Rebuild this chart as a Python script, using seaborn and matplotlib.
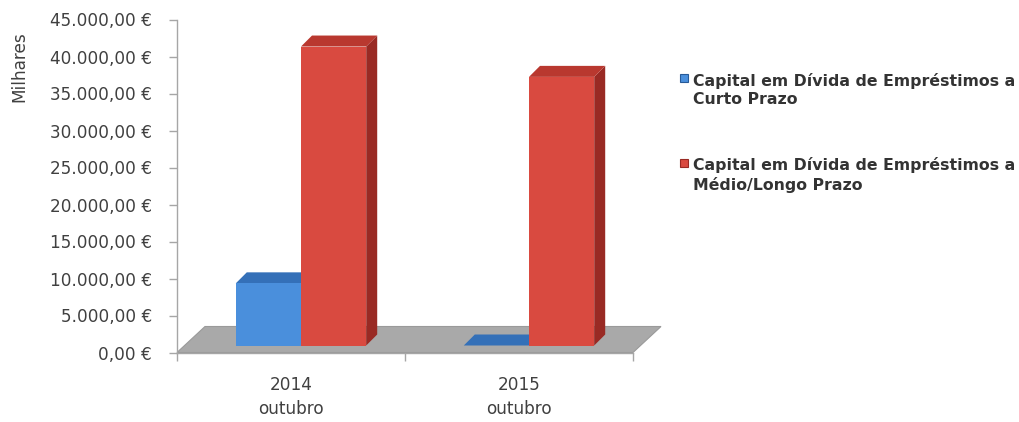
import numpy as np
import pandas as pd
import matplotlib
matplotlib.use("Agg")
import matplotlib.pyplot as plt
import matplotlib.colors as mcolors
import seaborn as sns
from matplotlib.patches import Polygon, Rectangle
from matplotlib.transforms import ScaledTranslation
from matplotlib.ticker import FuncFormatter, FixedLocator

# ---- data ----
categories = ["2014\noutubro", "2015\noutubro"]
series = ["Capital em Dívida de Empréstimos a\nCurto Prazo",
          "Capital em Dívida de Empréstimos a\nMédio/Longo Prazo"]
curto_prazo = [8400, 0]
medio_longo_prazo = [40400, 36300]
y_ticks = [0, 5000, 10000, 15000, 20000, 25000, 30000, 35000, 40000, 45000]
y_label = "Milhares"

# ---- styles ----
front_colors = ["#4a8fdc", "#d94a40"]
top_colors = ["#3470b8", "#b9382f"]
side_colors = ["#275a98", "#992a24"]
floor_color = "#a9a9a9"
axis_color = "#a6a6a6"
text_color = "#404040"

sns.set_theme(style="white")
plt.rcParams["font.family"] = ["DejaVu Sans"]

W, H, DPI = 1019, 422, 100
fig = plt.figure(figsize=(W / DPI, H / DPI), dpi=DPI)
ax_l, ax_b, ax_w, ax_h = 177 / W, 1 - 352.5 / H, (633 - 177) / W, (352.5 - 19.5) / H
ax = fig.add_axes([ax_l, ax_b, ax_w, ax_h])

df = pd.DataFrame({
    "ano": categories * 2,
    "serie": [series[0]] * len(categories) + [series[1]] * len(categories),
    "valor": curto_prazo + medio_longo_prazo,
})
sns.barplot(data=df, x="ano", y="valor", hue="serie", order=categories,
            hue_order=series, palette=front_colors, width=0.572,
            errorbar=None, saturation=1, legend=False, ax=ax)
bars = sorted([p for p in ax.patches if isinstance(p, Rectangle)], key=lambda p: p.get_x())

ax.set_xlim(-0.5, len(categories) - 0.5)
ax.set_ylim(y_ticks[0], y_ticks[-1])

px_x = ax_w * W / (ax.get_xlim()[1] - ax.get_xlim()[0])
px_y = ax_h * H / (ax.get_ylim()[1] - ax.get_ylim()[0])

# floor (3D base)
fdx, fdy = 28 / px_x, 26 / px_y
x0f, x1f = ax.get_xlim()
floor = Polygon([(x0f, 0), (x1f, 0), (x1f + fdx, fdy), (x0f + fdx, fdy)],
                closed=True, facecolor=floor_color, edgecolor="#9a9a9a",
                lw=0.8, clip_on=False, zorder=1)
ax.add_patch(floor)

# bars with 3D faces
offset = ax.transData + ScaledTranslation(10 / DPI, 7 / DPI, fig.dpi_scale_trans)
ddx, ddy = 11 / px_x, 11 / px_y
front_hex = [mcolors.to_hex(c) for c in front_colors]
for i, p in enumerate(bars):
    k = front_hex.index(mcolors.to_hex(p.get_facecolor()))
    x0, w, h = p.get_x(), p.get_width(), p.get_height()
    p.set_transform(offset)
    p.set_clip_on(False)
    p.set_zorder(3 + 2 * i + 1)
    p.set_edgecolor("none")
    side = Polygon([(x0 + w, 0), (x0 + w + ddx, ddy), (x0 + w + ddx, h + ddy), (x0 + w, h)],
                   closed=True, facecolor=side_colors[k], edgecolor="none",
                   transform=offset, clip_on=False, zorder=3 + 2 * i)
    top = Polygon([(x0, h), (x0 + ddx, h + ddy), (x0 + w + ddx, h + ddy), (x0 + w, h)],
                  closed=True, facecolor=top_colors[k], edgecolor="none",
                  transform=offset, clip_on=False, zorder=3 + 2 * i)
    ax.add_patch(side)
    ax.add_patch(top)

# axes styling
for s in ["top", "right"]:
    ax.spines[s].set_visible(False)
for s in ["left", "bottom"]:
    ax.spines[s].set_color(axis_color)
    ax.spines[s].set_linewidth(1.0)
    ax.spines[s].set_zorder(2)

def euro(v, pos=None):
    s = f"{v:,.2f}".replace(",", "X").replace(".", ",").replace("X", ".")
    return s + " €"

ax.yaxis.set_major_locator(FixedLocator(y_ticks))
ax.yaxis.set_major_formatter(FuncFormatter(euro))
ax.tick_params(axis="y", which="major", direction="out", length=6, width=1,
               color=axis_color, pad=12, labelsize=12.2, labelcolor=text_color, left=True)
ax.set_xticks(range(len(categories)))
ax.set_xticklabels(categories, linespacing=1.45)
ax.xaxis.set_minor_locator(FixedLocator([i - 0.5 for i in range(len(categories) + 1)]))
ax.tick_params(axis="x", which="major", length=0, pad=17, labelsize=12.2, labelcolor=text_color)
ax.tick_params(axis="x", which="minor", direction="out", length=6, width=1,
               color=axis_color, bottom=True)
ax.set_xlabel("")
ax.set_ylabel("")
fig.text(19 / W, 1 - 67 / H, y_label, rotation=90, ha="center", va="center",
         fontsize=12.2, color=text_color)

# legend (manual, marker aligned to first line)
leg_y = [90, 175]
for k, lab in enumerate(series):
    fig.patches.append(Rectangle((680 / W, 1 - (leg_y[k] - 8) / H), 8 / W, 8 / H,
                                 transform=fig.transFigure, facecolor=front_colors[k],
                                 edgecolor=side_colors[k], lw=0.8, figure=fig))
    fig.text(693 / W, 1 - leg_y[k] / H, lab, ha="left", va="center",
             fontsize=11.3, fontweight="bold", color="#333333", linespacing=1.3)

fig.savefig("out.png", dpi=DPI)
